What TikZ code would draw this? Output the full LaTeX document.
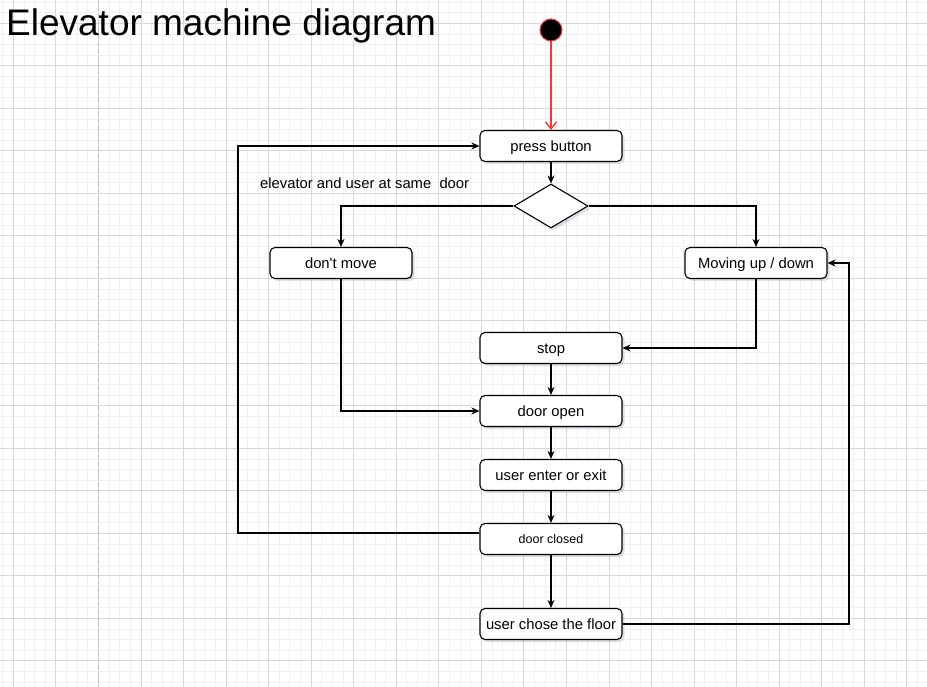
\documentclass[tikz,border=0pt]{standalone}
\usepackage{fontspec}
\setmainfont{Liberation Sans}
\usetikzlibrary{shapes.geometric,arrows.meta,shadows}
\definecolor{gridminor}{HTML}{F0F0F0}
\definecolor{gridmajor}{HTML}{D9D9D9}
\definecolor{startred}{HTML}{FF3333}
\definecolor{shadowcol}{HTML}{4A4A80}
\begin{document}
\begin{tikzpicture}[x=1pt, y=-1pt,
  box/.style={draw, rounded corners=5pt, fill=white, line width=1.1pt, minimum width=142pt, minimum height=31pt, inner sep=0pt, text height=13.4pt, text depth=3.1pt, font=\fontsize{14.8}{17}\selectfont, drop shadow={shadow xshift=2.5pt, shadow yshift=-2.5pt, fill=shadowcol, opacity=0.18}},
  choice/.style={draw, diamond, aspect=1.68, fill=white, line width=1.1pt, minimum width=74pt, minimum height=44pt, inner sep=0pt, drop shadow={shadow xshift=2.5pt, shadow yshift=-2.5pt, fill=shadowcol, opacity=0.18}},
  link/.style={line width=1.1pt, -{Stealth[length=8pt, width=7pt]}},
  startlink/.style={draw=startred, line width=1.3pt, -{Straight Barb[length=7pt, width=11pt]}}]
\useasboundingbox (0,0) rectangle (927,687);
\fill[white] (0,0) rectangle (927,687);
% grid
\foreach \k in {0,...,87} \draw[gridminor, line width=0.7pt] ({2.67+10.635*\k},0) -- ({2.67+10.635*\k},687);
\foreach \k in {0,...,64} \draw[gridminor, line width=0.7pt] (0,{2.05+10.625*\k}) -- (927,{2.05+10.625*\k});
\foreach \k in {0,...,21} \draw[gridmajor, line width=0.7pt] ({13.3+42.54*\k},0) -- ({13.3+42.54*\k},687);
\foreach \k in {0,...,15} \draw[gridmajor, line width=0.7pt] (0,{23.3+42.5*\k}) -- (927,{23.3+42.5*\k});
\draw[black!25, line width=1pt, dash pattern=on 4pt off 3pt] (98.7,0) -- (98.7,687);
% title
\node[anchor=base west, inner sep=0pt, font=\fontsize{37}{40}\selectfont] (ttl) at (6,36) {Elevator machine diagram};
% states
\node[circle, draw=startred, fill=black, line width=1pt, minimum size=22pt, inner sep=0pt] (st0) at (551,30) {};
\node[box] (st1) at (551,146) {press button};
\node[choice] (st2) at (551,206) {};
\node[anchor=west, inner sep=0pt, font=\fontsize{14.8}{17}\selectfont] (lbl) at (260,183) {elevator and user at same\ \ door};
\node[box] (st3) at (341,263) {don\textquotesingle t move};
\node[box] (st4) at (756,263) {Moving up / down};
\node[box] (st5) at (551,348) {stop};
\node[box] (st6) at (551,411) {door open};
\node[box] (st7) at (551,475) {user enter or exit};
\node[box, font=\fontsize{12.5}{15}\selectfont, text height=11.3pt, text depth=2.6pt] (st8) at (551,539) {door closed};
\node[box] (st9) at (551,624) {user chose the floor};
\coordinate (lp) at (238,146);
\coordinate (rp) at (849,263);
% connectors
\draw[startlink] (st0) -- (st1);
\draw[link] (st1) -- (st2);
\draw[link] (st2.west) -| (st3.north);
\draw[link] (st2.east) -| (st4.north);
\draw[link] (st4.south) |- (st5.east);
\draw[link] (st3.south) |- (st6.west);
\draw[link] (st5) -- (st6);
\draw[link] (st6) -- (st7);
\draw[link] (st7) -- (st8);
\draw[link] (st8) -- (st9);
\draw[link] ([yshift=6pt]st8.west) -| (lp) -- (st1.west);
\draw[link] (st9.east) -| (rp) -- (st4.east);
\end{tikzpicture}
\end{document}
